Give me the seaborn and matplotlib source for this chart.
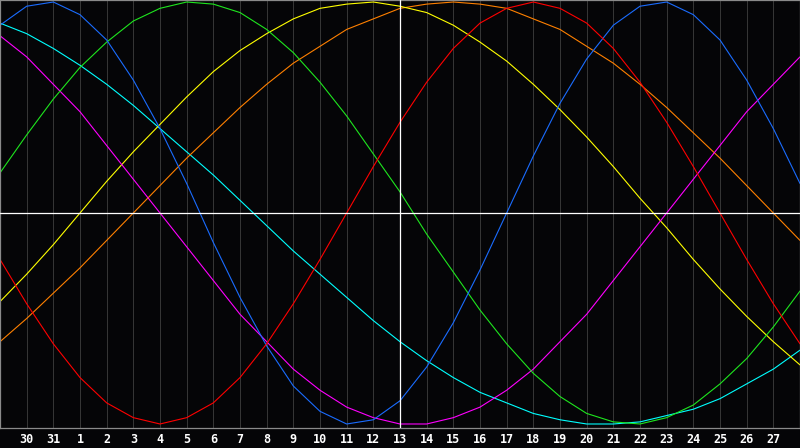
import numpy as np
import pandas as pd
import seaborn as sns
import matplotlib
matplotlib.use("Agg")
import matplotlib.pyplot as plt

# one value per day, in percent, day 0 = the 29th of the previous month
day_labels = ["30", "31"] + [str(d) for d in range(1, 28)]
today = 15  # the 13th

physical = [89, 98, 100, 94, 82, 63, 40, 14, -14, -40, -63, -82, -94, -100, -98, -89,
            -73, -52, -27, 0, 27, 52, 73, 89, 98, 100, 94, 82, 63, 40, 14]
emotional = [-22, -43, -62, -78, -90, -97, -100, -97, -90, -78, -62, -43, -22, 0, 22, 43,
             62, 78, 90, 97, 100, 97, 90, 78, 62, 43, 22, 0, -22, -43, -62]
intellectual = [19, 37, 54, 69, 81, 91, 97, 100, 99, 95, 87, 76, 62, 46, 28, 10,
                -10, -28, -46, -62, -76, -87, -95, -99, -100, -97, -91, -81, -69, -54, -37]
intuitive = [84, 74, 61, 48, 32, 16, 0, -16, -32, -48, -61, -74, -84, -92, -97, -100,
             -100, -97, -92, -84, -74, -61, -48, -32, -16, 0, 16, 32, 48, 61, 74]
aesthetic = [-42, -29, -15, 0, 15, 29, 42, 55, 67, 77, 85, 92, 97, 99, 100, 98,
             95, 89, 81, 72, 61, 49, 36, 22, 7, -7, -22, -36, -49, -61, -72]
awareness = [-61, -50, -38, -26, -13, 0, 13, 26, 38, 50, 61, 71, 79, 87, 92, 97,
             99, 100, 99, 97, 92, 87, 79, 71, 61, 50, 38, 26, 13, 0, -13]
spiritual = [90, 85, 78, 70, 61, 51, 40, 29, 18, 6, -6, -18, -29, -40, -51, -61,
             -70, -78, -85, -90, -95, -98, -100, -100, -99, -96, -93, -88, -81, -74, -65]

series = {
    "spiritual": spiritual,
    "awareness": awareness,
    "aesthetic": aesthetic,
    "intuitive": intuitive,
    "intellectual": intellectual,
    "physical": physical,
    "emotional": emotional,
}
colors = {
    "physical": "#1a6cff",
    "emotional": "#ff0000",
    "intellectual": "#1ee61e",
    "intuitive": "#ff00ff",
    "aesthetic": "#ffff00",
    "awareness": "#ff8000",
    "spiritual": "#00ffff",
}

rows = []
for name, vals in series.items():
    for i, v in enumerate(vals):
        rows.append((name, i, v))
df = pd.DataFrame(rows, columns=["cycle", "day", "value"])

sns.set_style("dark")
plt.rcParams["font.family"] = ["DejaVu Sans Mono"]

fig = plt.figure(figsize=(8, 4.48), dpi=100)
fig.patch.set_facecolor("#050507")
ax = fig.add_axes([0, 20 / 448, 1, 428 / 448])
ax.set_facecolor("#050507")

sns.lineplot(data=df, x="day", y="value", hue="cycle", palette=colors,
             estimator=None, sort=True, linewidth=0.8, legend=False, ax=ax)

ax.axhline(0, color="white", linewidth=0.9, zorder=5)
ax.axvline(today, color="white", linewidth=0.9, zorder=5)

ax.set_xlim(0, 30)
ax.set_ylim(-101.9, 100.95)
ax.set_xticks(range(1, 30))
ax.set_xticklabels(day_labels, color="white", fontweight="bold", fontsize=8.5)
ax.set_yticks([])
ax.tick_params(axis="x", length=0, pad=3.5)
ax.grid(axis="x", color="#353535", linewidth=0.75)
ax.grid(axis="y", visible=False)
ax.set_xlabel("")
ax.set_ylabel("")
for s in ax.spines.values():
    s.set_visible(True)
    s.set_color("#8a8a8a")
    s.set_linewidth(0.9)

fig.savefig("out.png", dpi=100, facecolor=fig.get_facecolor())
